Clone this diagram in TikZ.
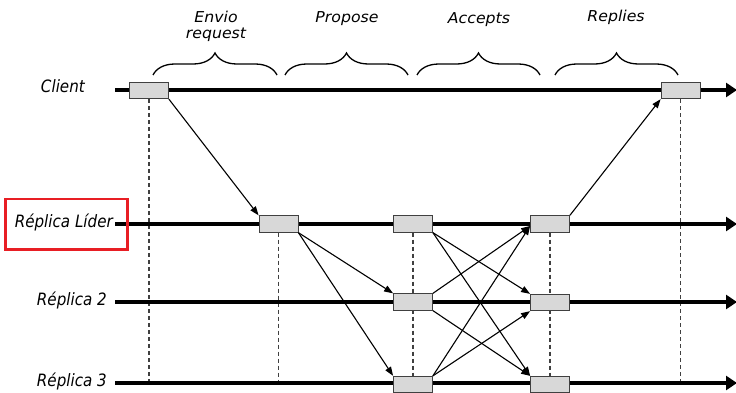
\documentclass[tikz,border=0pt]{standalone}
\usepackage{fontspec}
\setmainfont{DejaVu Sans}
\newfontfamily\lanefont{DejaVu Sans}[FakeStretch=0.89]
\newfontfamily\phasefont{DejaVu Sans}[FakeStretch=1.05]
\usetikzlibrary{arrows.meta, decorations.pathreplacing, backgrounds}
\definecolor{boxgray}{RGB}{216,216,216}
\definecolor{edgegray}{RGB}{64,64,64}
\definecolor{markred}{RGB}{232,30,36}

\begin{document}
\begin{tikzpicture}[
    x = 1pt, y = -1pt,
    lane/.style = {anchor = base east, inner sep = 0pt,
      font = \lanefont\itshape\fontsize{17}{20}\selectfont},
    phase/.style = {inner sep = 0pt,
      font = \phasefont\itshape\fontsize{15}{16}\selectfont},
    timeline/.style = {line width = 4pt, -{Triangle[length = 11pt, width = 14pt]}},
    msgbox/.style = {draw = edgegray, fill = boxgray, line width = 0.8pt,
      minimum width = 39pt, minimum height = 16.5pt, inner sep = 0pt},
    msg/.style = {line width = 1.1pt, -{Triangle[length = 9pt, width = 6.5pt]}},
    guide/.style = {edgegray, line width = 1.3pt, dash pattern = on 4pt off 3pt},
    span/.style = {decorate, decoration = {brace, amplitude = 22pt}, line width = 1.3pt}
  ]
  \useasboundingbox (0, 0) rectangle (736, 393);

  % lanes
  \node[lane] (client) at (85, 93)   {Client};
  \node[lane] (lider)  at (113, 227) {Réplica Líder};
  \node[lane] (rep2)   at (107, 305) {Réplica 2};
  \node[lane] (rep3)   at (107, 386) {Réplica 3};
  \coordinate (c0) at (115, 90);  \coordinate (c1) at (737, 90);
  \coordinate (l0) at (115, 224); \coordinate (l1) at (737, 224);
  \coordinate (r20) at (115, 302); \coordinate (r21) at (737, 302);
  \coordinate (r30) at (115, 383); \coordinate (r31) at (737, 383);

  % phases
  \node[phase, align = center] (envio) at (216, 26.5) {Envio\\request};
  \node[phase, anchor = base] (propose) at (347, 23) {Propose};
  \node[phase, anchor = base] (accepts) at (479, 24) {Accepts};
  \node[phase, anchor = base] (replies) at (616, 22) {Replies};
  \draw[span] (153, 75) -- (277, 75);
  \draw[span] (285, 75) -- (408, 75);
  \draw[span] (417, 75) -- (540, 75);
  \draw[span] (555, 75) -- (678, 75);

  % messages on each lane
  \node[msgbox] (c-req)  at (149, 90.5) {};
  \node[msgbox] (l-req)  at (278.5, 224) {};
  \node[msgbox] (l-prop) at (413, 224) {};
  \node[msgbox] (r2-prop) at (413, 302) {};
  \node[msgbox] (r3-prop) at (413, 384.5) {};
  \node[msgbox] (l-acc)  at (550, 224) {};
  \node[msgbox] (r2-acc) at (550, 302.5) {};
  \node[msgbox] (r3-acc) at (550, 384.5) {};
  \node[msgbox] (c-rep)  at (680.5, 90.5) {};

  \begin{scope}[on background layer]
    \draw[guide] (c-req)  -- (c-req |- r30);
    \draw[guide] (l-req)  -- (l-req |- r30);
    \draw[guide] (l-prop) -- (l-prop |- r30);
    \draw[guide] (l-acc)  -- (l-acc |- r30);
    \draw[guide] (c-rep)  -- (c-rep |- r30);
    \draw[timeline] (c0) -- (c1);
    \draw[timeline] (l0) -- (l1);
    \draw[timeline] (r20) -- (r21);
    \draw[timeline] (r30) -- (r31);
  \end{scope}

  % request, propose, accept, reply
  \draw[msg] (c-req.south east) -- (l-req.north west);
  \draw[msg] (l-req.south east) -- (r2-prop.north west);
  \draw[msg] (l-req.south east) -- (r3-prop.north west);
  \draw[msg] (l-prop.south east) -- (r2-acc.north west);
  \draw[msg] (l-prop.south east) -- (r3-acc.north west);
  \draw[msg] (r2-prop.north east) -- ([yshift = -2pt]l-acc.west);
  \draw[msg] (r2-prop.south east) -- (r3-acc.north west);
  \draw[msg] (r3-prop.north east) -- ([yshift = -2pt]l-acc.west);
  \draw[msg] (r3-prop.north east) -- (r2-acc.south west);
  \draw[msg] (l-acc.north east) -- (c-rep.south west);

  % leader highlight
  \draw[markred, line width = 2.5pt] (5.5, 199) rectangle (127.5, 249.5);
\end{tikzpicture}
\end{document}
